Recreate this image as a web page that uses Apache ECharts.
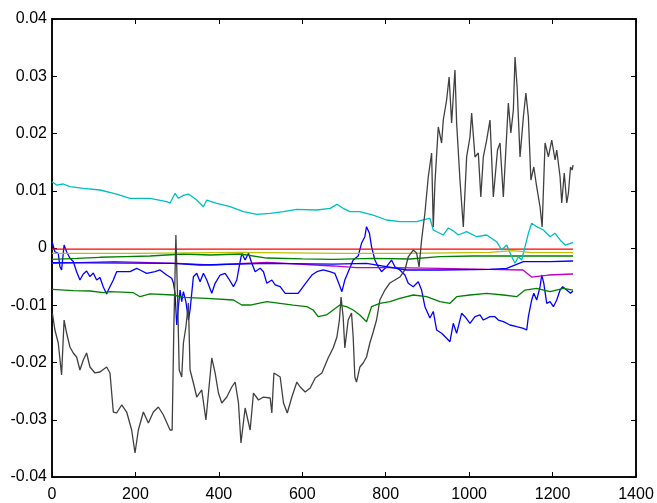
<!DOCTYPE html>
<html>
<head>
<meta charset="utf-8">
<script src="https://cdn.jsdelivr.net/npm/echarts@6/dist/echarts.min.js"></script>
<style>html,body{margin:0;padding:0;background:#fff}#c{width:657px;height:503px}</style>
</head>
<body>
<div id="c"></div>
<script>
const xTicks = [0, 200, 400, 600, 800, 1000, 1200, 1400];
const yTicks = [-0.04, -0.03, -0.02, -0.01, 0, 0.01, 0.02, 0.03, 0.04];

const blueA = [[0,0.0011],[7,-0.00065],[15,-0.00093],[19,-0.00327],[23,-0.00384],[29,0.00052],[35,-0.00065],[43,-0.0018],[51,-0.00236],[59,-0.00414],[67,-0.00559],[75,-0.00454],[83,-0.00402],[91,-0.00501],[99,-0.00437],[107,-0.00559],[115,-0.00515],[123,-0.00681],[131,-0.00803],[135,-0.00734],[147,-0.00559],[155,-0.00414],[171,-0.00414],[187,-0.00414],[203,-0.00355],[211,-0.00384],[227,-0.00442],[247,-0.00414],[259,-0.00384],[275,-0.00472],[287,-0.00529],[291,-0.00611],[295,-0.00791],[299,-0.01345],[303,-0.01025],[307,-0.00734],[311,-0.00938],[315,-0.00763],[321,-0.00938],[327,-0.01258],[331,-0.01083],[339,-0.00501],[347,-0.00442],[355,-0.00589],[363,-0.00442],[371,-0.00559],[383,-0.00791],[391,-0.00617],[403,-0.00472],[415,-0.00442],[423,-0.00529],[435,-0.00676],[443,-0.00559],[451,-0.00239],[455,-0.00093],[463,-0.0021],[471,-0.00093],[479,-0.00267],[487,-0.00414],[499,-0.00355],[507,-0.00414],[515,-0.00617],[527,-0.00559],[535,-0.00646],[547,-0.00676],[559,-0.00791],[575,-0.00791],[590,-0.00791],[599,-0.00704],[611,-0.00589],[623,-0.00472],[635,-0.00414],[650,-0.00384],[666,-0.00414],[678,-0.00442],[686,-0.00589],[695,-0.00763],[702,-0.00559],[710,-0.00419],[722,-0.0021],[734,-0.0014],[742,0.00082],[750,0.00197],[754,0.00372],[761,0.00257],[766,0.00023],[774,-0.0021],[782,-0.00327],[790,-0.00414],[802,-0.00327],[814,-0.0021],[822,-0.00327],[834,-0.00384],[846,-0.00472],[854,-0.00617],[866,-0.00676],[878,-0.00589],[886,-0.00734],[894,-0.01025],[906,-0.01223],[914,-0.01109],[922,-0.01432],[934,-0.0149],[946,-0.01577],[954,-0.01637],[962,-0.01315],[970,-0.0149],[982,-0.01141],[990,-0.012],[1002,-0.01315],[1014,-0.012],[1026,-0.0117],[1034,-0.01258],[1050,-0.012],[1062,-0.012],[1070,-0.01258],[1082,-0.01287],[1098,-0.01345],[1114,-0.01375],[1130,-0.01403],[1138,-0.01432],[1142,-0.012],[1150,-0.00908],[1155,-0.00791],[1162,-0.00908],[1170,-0.00676],[1174,-0.00472],[1179,-0.00617],[1186,-0.00966],[1194,-0.00938],[1202,-0.01025],[1210,-0.00908],[1218,-0.00734],[1224,-0.00676],[1234,-0.00734],[1243,-0.00791],[1249,-0.0075]];

const greenA = [[0,-0.00197],[60,-0.0018],[115,-0.00162],[175,-0.0015],[235,-0.0014],[314,-0.00105],[379,-0.00122],[451,-0.00105],[515,-0.00175],[600,-0.0019],[674,-0.00197],[770,-0.0018],[858,-0.00192],[930,-0.00152],[1009,-0.0014],[1129,-0.0014],[1249,-0.0014]];

const redA = [[0,-0.0002],[300,-0.0002],[600,-0.0002],[900,-0.0002],[1249,-0.0002]];

const cyanA = [[0,0.01158],[11,0.011],[27,0.01118],[43,0.01071],[75,0.01043],[115,0.01013],[155,0.00943],[187,0.00868],[235,0.00868],[275,0.00809],[283,0.00781],[295,0.00955],[303,0.00868],[315,0.0092],[327,0.00943],[347,0.00838],[363,0.00721],[371,0.00838],[395,0.00781],[427,0.00721],[459,0.00634],[491,0.00589],[523,0.00606],[555,0.00634],[587,0.00676],[635,0.00664],[667,0.00693],[683,0.00763],[698,0.00693],[714,0.00634],[738,0.00634],[770,0.00576],[802,0.00489],[834,0.00459],[874,0.00459],[894,0.00501],[906,0.00519],[914,0.00314],[938,0.00227],[950,0.0035],[962,0.003],[974,0.00227],[994,0.00285],[1018,0.00197],[1042,0.00227],[1066,0.0011],[1078,-0.00035],[1090,0.00052],[1102,-0.00152],[1110,-0.00267],[1118,-0.00152],[1126,-0.0021],[1134,0.00023],[1142,0.00257],[1150,0.00431],[1162,0.00372],[1178,0.00314],[1194,0.00197],[1206,0.00257],[1218,0.0014],[1230,0.00052],[1243,0.00082],[1249,0.001]];

const magentaA = [[0,-0.00267],[150,-0.00239],[300,-0.00267],[380,-0.00297],[515,-0.0025],[674,-0.00314],[730,-0.00344],[818,-0.00344],[930,-0.00355],[1050,-0.00372],[1129,-0.00384],[1150,-0.00507],[1190,-0.00472],[1249,-0.00454]];

const yellowA = [[0,-0.00093],[200,-0.00093],[451,-0.00075],[690,-0.00093],[850,-0.00093],[1050,-0.00075],[1105,-0.00047],[1150,-0.0008],[1249,-0.00082]];

const grayA = [[1,-0.01141],[7,-0.01432],[15,-0.01659],[23,-0.02218],[29,-0.01258],[35,-0.01485],[43,-0.01729],[51,-0.01834],[59,-0.01904],[67,-0.02131],[75,-0.01956],[83,-0.01834],[91,-0.02079],[103,-0.02183],[115,-0.02166],[131,-0.02079],[139,-0.02183],[147,-0.02865],[155,-0.02882],[167,-0.02742],[179,-0.02865],[191,-0.03179],[199,-0.03581],[207,-0.03179],[219,-0.02865],[231,-0.03057],[243,-0.02865],[255,-0.02777],[267,-0.02917],[283,-0.03179],[288,-0.03179],[292,-0.01432],[297,0.00227],[301,-0.00856],[305,-0.02131],[311,-0.02253],[315,-0.01659],[321,-0.0138],[327,-0.00961],[331,-0.02131],[339,-0.02358],[347,-0.02603],[359,-0.0248],[369,-0.03004],[383,-0.01921],[391,-0.02183],[399,-0.02533],[407,-0.02707],[419,-0.02603],[431,-0.02428],[439,-0.02341],[447,-0.02707],[453,-0.03406],[463,-0.02795],[475,-0.03179],[483,-0.02533],[495,-0.02655],[507,-0.02603],[523,-0.0262],[527,-0.02882],[532,-0.02183],[547,-0.02253],[555,-0.02707],[564,-0.02882],[575,-0.02603],[587,-0.02341],[595,-0.02428],[607,-0.02515],[619,-0.02445],[631,-0.02271],[647,-0.02183],[662,-0.01921],[674,-0.01747],[683,-0.01555],[689,-0.01258],[693,-0.00856],[698,-0.01205],[702,-0.01747],[710,-0.01258],[718,-0.01135],[722,-0.0155],[726,-0.02253],[730,-0.02341],[738,-0.02079],[746,-0.02009],[754,-0.01904],[762,-0.01659],[770,-0.01467],[778,-0.01258],[786,-0.00908],[798,-0.00734],[810,-0.00611],[822,-0.00559],[834,-0.00507],[846,-0.00384],[854,-0.00157],[866,-0.00035],[874,-0.00087],[880,-0.00332],[886,0.0014],[894,0.00611],[902,0.0124],[910,0.0166],[914,0.00367],[918,0.01135],[926,0.02114],[934,0.01834],[938,0.02236],[946,0.02585],[952,0.02987],[958,0.02183],[966,0.03109],[970,0.02183],[978,0.01188],[986,0.00367],[994,0.0159],[1002,0.01939],[1006,0.02358],[1014,0.0159],[1022,0.0166],[1028,0.00891],[1034,0.0159],[1042,0.01886],[1050,0.02236],[1058,0.00891],[1068,0.01712],[1074,0.01834],[1082,0.00891],[1094,0.02533],[1100,0.02009],[1106,0.0241],[1110,0.03336],[1115,0.02812],[1122,0.0159],[1130,0.02288],[1136,0.02707],[1142,0.02288],[1148,0.01188],[1155,0.01415],[1162,0.01066],[1170,0.00716],[1175,0.00367],[1182,0.01834],[1190,0.0159],[1198,0.01886],[1206,0.01537],[1210,0.01712],[1218,0.0124],[1222,0.00786],[1228,0.0131],[1234,0.00786],[1238,0.00961],[1243,0.01415],[1247,0.01362],[1249,0.0145]];

const blueB = [[0,-0.00257],[290,-0.00267],[355,-0.00297],[515,-0.00267],[674,-0.0028],[754,-0.00267],[850,-0.00384],[930,-0.00384],[1050,-0.00372],[1090,-0.00355],[1130,-0.00239],[1194,-0.00239],[1249,-0.00227]];

const greenB = [[0,-0.00721],[51,-0.00746],[91,-0.00751],[123,-0.00781],[139,-0.00763],[195,-0.00781],[211,-0.00851],[235,-0.00803],[291,-0.00821],[315,-0.00861],[371,-0.00879],[435,-0.00908],[455,-0.00996],[475,-0.00996],[515,-0.00938],[578,-0.00996],[611,-0.01025],[626,-0.01083],[638,-0.012],[658,-0.0117],[674,-0.01083],[690,-0.00996],[706,-0.01025],[722,-0.01083],[738,-0.0117],[754,-0.01287],[766,-0.01025],[786,-0.00966],[810,-0.00938],[834,-0.00879],[866,-0.00821],[898,-0.00851],[930,-0.00938],[954,-0.00966],[970,-0.00851],[1002,-0.00821],[1042,-0.00791],[1082,-0.00821],[1114,-0.00851],[1134,-0.00734],[1162,-0.00704],[1194,-0.00763],[1226,-0.00704],[1249,-0.00734]];

const seriesList = [
  {data: blueA, color: '#0000ff'},
  {data: greenA, color: '#008000'},
  {data: redA, color: '#ff0000'},
  {data: cyanA, color: '#00bfbf'},
  {data: magentaA, color: '#bf00bf'},
  {data: yellowA, color: '#bfbf00'},
  {data: grayA, color: '#404040'},
  {data: blueB, color: '#0000ff'},
  {data: greenB, color: '#008000'}
];

const chart = echarts.init(document.getElementById('c'), null, {renderer: 'canvas'});
const fmtY = v => Math.abs(v) < 1e-9 ? '0' : v.toFixed(2);
const fmtX = v => String(Math.round(v));
const axisLine = {show: true, onZero: false, lineStyle: {color: '#000', width: 1.5}};
const tick = {show: true, inside: true, length: 5, lineStyle: {color: '#000', width: 1}};
const lbl = {color: '#000', fontSize: 16, fontFamily: 'Liberation Sans, Arial, sans-serif'};
chart.setOption({
  animation: false,
  backgroundColor: '#fff',
  grid: {left: 52, right: 21, top: 19, bottom: 26, containLabel: false,
         show: true, borderColor: '#000', borderWidth: 1.5, backgroundColor: 'transparent'},
  xAxis: [
    {type: 'value', min: xTicks[0], max: xTicks[xTicks.length-1], interval: 200, position: 'bottom',
     axisLine, axisTick: tick, splitLine: {show: false},
     axisLabel: Object.assign({margin: 10, formatter: fmtX}, lbl)},
    {type: 'value', min: 0, max: 1400, interval: 200, position: 'top',
     axisLine, axisTick: tick, splitLine: {show: false}, axisLabel: {show: false}}
  ],
  yAxis: [
    {type: 'value', min: yTicks[0], max: yTicks[yTicks.length-1], interval: 0.01, position: 'left',
     axisLine, axisTick: tick, splitLine: {show: false},
     axisLabel: Object.assign({margin: 5, formatter: fmtY}, lbl)},
    {type: 'value', min: -0.04, max: 0.04, interval: 0.01, position: 'right',
     axisLine, axisTick: tick, splitLine: {show: false}, axisLabel: {show: false}}
  ],
  series: seriesList.map(s => ({
    type: 'line', data: s.data, xAxisIndex: 0, yAxisIndex: 0,
    showSymbol: false, symbol: 'none', smooth: false,
    lineStyle: {color: s.color, width: 1.3}, itemStyle: {color: s.color}
  }))
});
</script>
</body>
</html>
